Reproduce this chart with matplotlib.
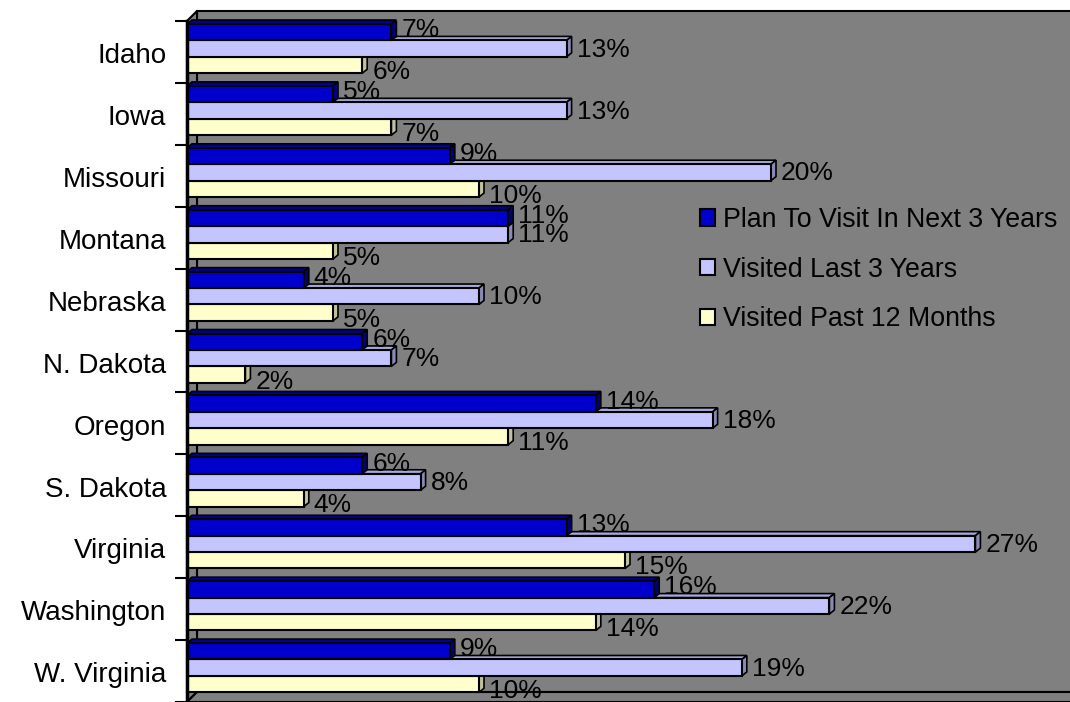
import numpy as np
import matplotlib
matplotlib.use("Agg")
import matplotlib.pyplot as plt
from matplotlib.patches import Polygon, Patch

plt.rcParams["font.family"] = ["Liberation Sans", "DejaVu Sans"]

states = ["Idaho", "Iowa", "Missouri", "Montana", "Nebraska", "N. Dakota",
          "Oregon", "S. Dakota", "Virginia", "Washington", "W. Virginia"]
plan_next_3 = [7, 5, 9, 11, 4, 6, 14, 6, 13, 16, 9]
visited_last_3 = [13, 13, 20, 11, 10, 7, 18, 8, 27, 22, 19]
visited_past_12 = [6, 7, 10, 5, 5, 2, 11, 4, 15, 14, 10]
series_names = ["Plan To Visit In Next 3 Years", "Visited Last 3 Years",
                "Visited Past 12 Months"]

# face, top, side colours per series
styles = [
    ("#0000CC", "#000099", "#00007A"),
    ("#C4C4FF", "#A8A8DC", "#8A8AB8"),
    ("#FFFFCC", "#DCDCB0", "#C2C29C"),
]
label_dy = [-2, 1, 7]  # px nudge of value labels per series

W, H = 1070, 702
PX_X = 29.2   # pixels per percent
PX_Y = 61.9   # pixels per category
n = len(states)

fig = plt.figure(figsize=(W / 100, H / 100), dpi=100)
ax = fig.add_axes([187 / W, 0, 883 / W, 681 / H])
xmax = 883 / PX_X
ax.set_xlim(0, xmax)
ax.set_ylim(n, 0)
ax.patch.set_visible(False)

# walls and floor of the 3-D box
wx, wy = 10 / PX_X, 10 / PX_Y
gray = "#808080"
box = [
    [(wx, -wy), (xmax + 1, -wy), (xmax + 1, n - wy), (wx, n - wy)],
    [(0, 0), (wx, -wy), (wx, n - wy), (0, n)],
    [(0, n), (wx, n - wy), (xmax + 1, n - wy), (xmax + 1, n)],
]
for pts in box:
    ax.add_patch(Polygon(pts, closed=True, facecolor=gray, edgecolor="black",
                         lw=1.5, zorder=0.5, clip_on=False))

# bars with a shallow depth
bx, by = 5 / PX_X, 4 / PX_Y
h = 16.4 / PX_Y
start = 3 / PX_Y
for j, vals in enumerate([plan_next_3, visited_last_3, visited_past_12]):
    face, top, side = styles[j]
    z = 5 - j
    tops = np.arange(n) + start + j * h
    ax.barh(tops + h / 2, vals, height=h, left=0, color=face,
            edgecolor="black", lw=1.5, zorder=z + 0.2)
    for yt, v in zip(tops, vals):
        yb = yt + h
        ax.add_patch(Polygon([(0, yt), (v, yt), (v + bx, yt - by), (bx, yt - by)],
                             facecolor=top, edgecolor="black", lw=1.2,
                             zorder=z, clip_on=False))
        ax.add_patch(Polygon([(v, yt), (v + bx, yt - by), (v + bx, yb - by), (v, yb)],
                             facecolor=side, edgecolor="black", lw=1.2,
                             zorder=z))
        ax.text(v + 10 / PX_X, yt + h / 2 + label_dy[j] / PX_Y, f"{v}%",
                ha="left", va="center", fontsize=19, color="black",
                zorder=7, clip_on=False)

# axis styling
for s in ["top", "right", "bottom"]:
    ax.spines[s].set_visible(False)
ax.spines["left"].set_linewidth(2.5)
ax.spines["left"].set_zorder(6)
ax.set_xticks([])
ax.set_yticks(np.arange(n + 1))
ax.set_yticklabels([])
ax.tick_params(axis="y", which="major", length=8.6, width=1.5, direction="out")
ax.set_yticks(np.arange(n) + 0.52, minor=True)
ax.set_yticklabels(states, minor=True, fontsize=20)
ax.tick_params(axis="y", which="minor", length=0, pad=15)

handles = [Patch(facecolor=s[0], edgecolor="black", lw=1.5) for s in styles]
fig.legend(handles, series_names, loc="upper left",
           bbox_to_anchor=(700 / W, 1 - 207 / H), frameon=False, fontsize=19.3,
           handlelength=0.55, handleheight=0.55, handletextpad=0.3,
           labelspacing=0.88, borderpad=0, borderaxespad=0)

fig.savefig("out.png", dpi=100)
